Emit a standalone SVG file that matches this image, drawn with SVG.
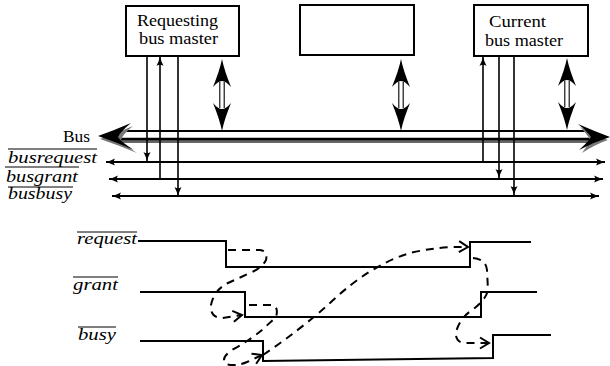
<svg xmlns="http://www.w3.org/2000/svg" width="610" height="366" viewBox="0 0 610 366">
<style>
.box{fill:#fff;stroke:#000;stroke-width:2}
.lbl{font-family:"Liberation Serif","DejaVu Serif",serif;font-size:16px;fill:#000}
.it{font-family:"Liberation Serif","DejaVu Serif",serif;font-style:italic;font-size:16px;fill:#000}
.ov{stroke:#000;stroke-width:1}
.sig{stroke:#000;stroke-width:2;fill:none}
.vs{stroke:#000;stroke-width:1.6;fill:none;marker-end:url(#a)}
.hs{stroke:#000;stroke-width:2;fill:none;marker-start:url(#a);marker-end:url(#a)}
.dash{stroke:#000;stroke-width:2;fill:none;stroke-dasharray:8 6;marker-end:url(#c)}
</style>
<defs>
<marker id="a" viewBox="-10 -4 11 8" refX="0" refY="0" markerWidth="11" markerHeight="8" markerUnits="userSpaceOnUse" orient="auto-start-reverse">
<path d="M-9,-3.5 Q-4,-1 0,0 Q-4,1 -9,3.5 Q-6.5,0 -9,-3.5Z" fill="#000"/>
</marker>
<marker id="c" viewBox="-12 -7 14 14" refX="0" refY="0" markerWidth="14" markerHeight="14" markerUnits="userSpaceOnUse" orient="auto">
<path d="M-9,-5.5 L0,0 L-9,5.5" fill="none" stroke="#000" stroke-width="2"/>
</marker>
<g id="dbl">
<path d="M0,0 C1.5,8 5,18 9,28 Q4,22 0,22 Q-4,22 -9,28 C-5,18 -1.5,8 0,0Z" fill="#000"/>
<path d="M0,72 C1.5,64 5,54 9,44 Q4,50 0,50 Q-4,50 -9,44 C-5,54 -1.5,64 0,72Z" fill="#000"/>
<line x1="-2.2" y1="23" x2="-2.2" y2="49" stroke="#000" stroke-width="1.1"/>
<line x1="2.2" y1="23" x2="2.2" y2="49" stroke="#000" stroke-width="1.1"/>
</g>
</defs>

<g id="bus">
<line x1="118" y1="131" x2="592" y2="131" stroke="#000" stroke-width="1.8"/>
<line x1="118" y1="141.5" x2="592" y2="141.5" stroke="#666" stroke-width="3"/>
<line x1="118" y1="139" x2="592" y2="139" stroke="#000" stroke-width="2.6"/>
<path d="M100,139 Q117,133 133,126 Q122,135 121,140 Q124,145 137,153 Q118,145 100,139Z" fill="#777"/>
<path d="M98,136 Q115,130 131,123 Q120,132 118,137 Q121,142 134,150 Q116,142 98,136Z" fill="#000"/>
<path d="M608,140 Q592,134 580,127 Q588,135 590,140 Q588,145 582,153 Q594,145 608,140Z" fill="#777"/>
<path d="M610,137 Q594,131 578,124 Q588,132 591,137 Q588,142 579,150 Q594,142 610,137Z" fill="#000"/>
<text class="lbl" x="63" y="142" textLength="27" lengthAdjust="spacingAndGlyphs">Bus</text>
</g>

<g id="requesting">
<rect class="box" x="126" y="6" width="113" height="50"/>
<text class="lbl" x="137" y="26" textLength="81" lengthAdjust="spacingAndGlyphs">Requesting</text>
<text class="lbl" x="139" y="44" textLength="79" lengthAdjust="spacingAndGlyphs">bus master</text>
</g>
<g id="middle">
<rect class="box" x="300" y="5" width="114" height="50"/>
</g>
<g id="current">
<rect class="box" x="474" y="5" width="114" height="51"/>
<text class="lbl" x="489" y="27" textLength="57" lengthAdjust="spacingAndGlyphs">Current</text>
<text class="lbl" x="485" y="46" textLength="78" lengthAdjust="spacingAndGlyphs">bus master</text>
</g>

<g id="signals">
<text class="it" x="8" y="163" textLength="89" lengthAdjust="spacingAndGlyphs">busrequest</text>
<line class="ov" x1="8" y1="149" x2="97" y2="149"/>
<text class="it" x="6" y="182" textLength="72" lengthAdjust="spacingAndGlyphs">busgrant</text>
<line class="ov" x1="5" y1="167" x2="79" y2="167"/>
<text class="it" x="8" y="199" textLength="64" lengthAdjust="spacingAndGlyphs">busbusy</text>
<line class="ov" x1="8" y1="187" x2="73" y2="187"/>
</g>

<g id="connectors">
<use href="#dbl" x="222" y="59"/>
<use href="#dbl" x="401" y="59"/>
<use href="#dbl" x="567" y="58"/>
<line class="hs" x1="106" y1="162" x2="605" y2="162"/>
<line class="hs" x1="109" y1="179" x2="603" y2="179"/>
<line class="hs" x1="112" y1="196" x2="599" y2="196"/>
<line class="vs" x1="147" y1="57" x2="147" y2="161"/>
<line class="vs" x1="160" y1="179" x2="160" y2="57"/>
<line class="vs" x1="178" y1="57" x2="178" y2="196"/>
<line class="vs" x1="483" y1="162" x2="483" y2="57"/>
<line class="vs" x1="499" y1="57" x2="499" y2="178"/>
<line class="vs" x1="514" y1="57" x2="514" y2="195"/>
</g>

<g id="timing">
<text class="it" x="77" y="244" textLength="60" lengthAdjust="spacingAndGlyphs">request</text>
<line class="ov" x1="77" y1="232" x2="137" y2="232"/>
<text class="it" x="73" y="290" textLength="45" lengthAdjust="spacingAndGlyphs">grant</text>
<line class="ov" x1="73" y1="277" x2="118" y2="277"/>
<text class="it" x="78" y="340" textLength="38" lengthAdjust="spacingAndGlyphs">busy</text>
<line class="ov" x1="78" y1="327" x2="116" y2="327"/>
<path class="sig" d="M138,241 H226 V267 H470 V242 H531"/>
<path class="sig" d="M140,292 H245 V317 H481 V292 H537"/>
<path class="sig" d="M140,341 H263 V361 L493,358 V335 H551"/>
</g>

<g id="causality">
<path class="dash" d="M228,250 L260,250 Q268,251 266,260 Q262,268 250,273 L228,283 Q214,290 211,305 Q210,318 222,318 L242,315"/>
<path class="dash" d="M249,305 L272,305 Q279,307 276,317 L262,330 Q250,340 232,350 Q220,358 226,364 Q235,367 247,362 L262,355"/>
<path class="dash" d="M263,355 Q300,330 330,303 Q370,265 410,253 Q440,246 468,247"/>
<path class="dash" d="M473,258 Q486,259 487,270 L488,290 Q486,300 472,310 Q460,318 456,332 Q455,343 466,343 L489,343"/>
</g>
</svg>
